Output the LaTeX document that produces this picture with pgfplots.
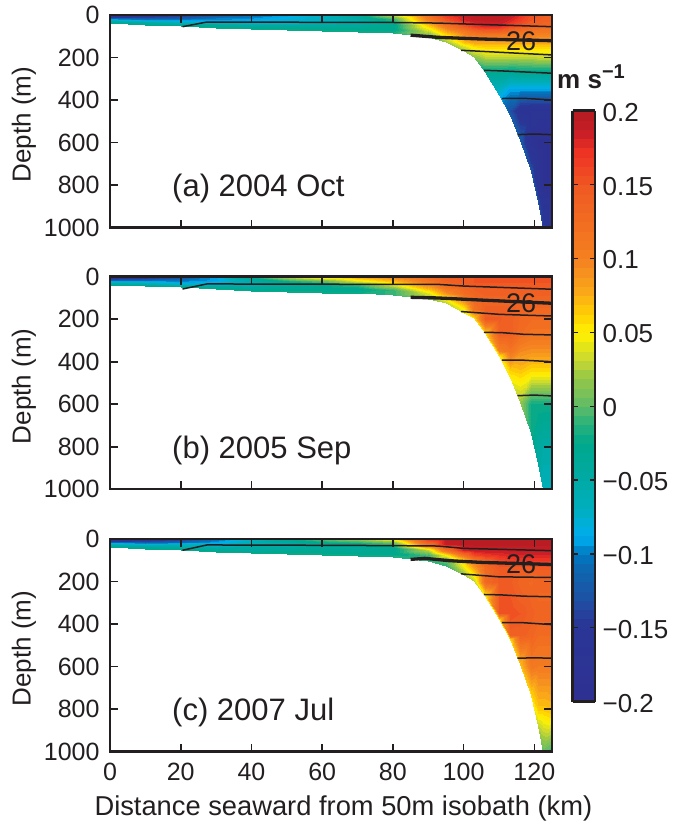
\documentclass[border=0pt]{standalone}
\usepackage{pgfplots}
\usepackage{pgfplotstable}
\usepackage{fontspec}
\setmainfont{Liberation Sans}
\pgfplotsset{compat=1.18}
\definecolor{ink}{RGB}{35,31,32}
\pgfplotsset{colormap={base}{
rgb255(0)=(46,49,146) rgb255(50)=(42,54,150) rgb255(70)=(28,84,165) rgb255(90)=(10,105,178) rgb255(100)=(0,125,195) rgb255(110)=(0,174,239) rgb255(130)=(0,175,190) rgb255(150)=(0,170,165) rgb255(175)=(0,168,140) rgb255(190)=(50,180,120) rgb255(200)=(95,187,105) rgb255(220)=(150,200,70) rgb255(232)=(200,215,50) rgb255(250)=(255,242,0) rgb255(265)=(255,203,5) rgb255(280)=(250,166,26) rgb255(300)=(244,130,32) rgb255(350)=(240,90,35) rgb255(375)=(237,50,36) rgb255(388)=(200,30,38) rgb255(400)=(185,28,34)}}
\pgfplotsset{colormap={steps}{samples of colormap=(64 of base)}}
\pgfplotsset{panel/.style={
  scale only axis, width=442pt, height=212.5pt, anchor=north west,
  xmin=0, xmax=125, ymin=0, ymax=1000, y dir=reverse,
  xtick={0,20,...,120}, ytick={0,200,...,1000},
  tick align=inside, xtick pos=both, ytick pos=both,
  xticklabel pos=bottom, yticklabel pos=left,
  major tick length=8pt,
  axis line style={line width=2.5pt, color=ink},
  tick style={line width=1.6pt, color=ink},
  tick label style={font=\fontsize{25}{25}\selectfont, color=ink},
  /pgf/number format/assume math mode=true,
  /pgf/number format/1000 sep={},
  yticklabel style={xshift=-7pt},
  xticklabel style={yshift=-8pt},
  axis on top, colormap name=steps, colormap access=piecewise constant,
  point meta min=-0.2, point meta max=0.2,
  ylabel=Depth (m),
  ylabel style={at={(axis description cs:-0.195,0.484)}, anchor=center, font=\fontsize{26}{26}\selectfont, color=ink},
  field/.style={surf, shader=interp},
  ct/.style={color=ink, line width=1.5pt, no marks},
  ctk/.style={color=ink, line width=3.3pt, no marks},
}}
\pgfplotstableread{
x y a b c
0 0 -.18 -.17 -.17
10 0 -.17 -.16 -.16
20 0 -.15 -.14 -.15
30 0 -.13 -.09 -.11
40 0 -.11 -.02 -.07
50 0 -.09 .03 -.03
60 0 -.07 .06 .0
70 0 -.04 .08 .02
80 0 .03 .10 .05
90 0 .12 .13 .17
0 10 -.15 -.14 -.15
10 11 -.14 -.13 -.14
20 12.5 -.12 -.11 -.11
30 15 -.10 -.09 -.09
40 17 -.09 -.05 -.06
50 18 -.08 -.02 -.05
60 19 -.07 .0 -.03
70 20 -.05 .04 -.02
80 21 -.01 .07 .0
90 26 .10 .11 .12
0 20 -.09 -.09 -.08
10 22 -.09 -.09 -.08
20 25 -.09 -.09 -.07
30 30 -.09 -.08 -.07
40 34 -.08 -.06 -.05
50 36 -.07 -.04 -.045
60 37 -.06 -.03 -.04
70 39 -.05 -.01 -.04
80 42 -.03 .03 -.03
90 52 .06 .08 .03
0 29 -.05 -.05 -.05
10 34 -.05 -.05 -.05
20 37 -.06 -.06 -.05
30 44 -.05 -.05 -.05
40 51 -.04 -.04 -.04
50 54 -.04 -.035 -.035
60 56 -.035 -.03 -.03
70 59 -.03 -.03 -.03
80 64 -.03 -.01 -.03
90 79 .03 .04 -.01
0 39 -.03 -.03 -.03
10 45 -.025 -.025 -.025
20 50 -.02 -.02 -.02
30 59 -.02 -.02 -.02
40 68 -.02 -.02 -.02
50 72 -.02 -.02 -.02
60 75 -.02 -.02 -.02
70 79 -.02 -.02 -.02
80 85 -.015 -.01 -.015
90 105 .0 .01 -.01
}\shelf
\pgfplotstableread{
x y a b c
90 0 .12 .13 .17
95 0 .17 .145 .195
100 0 .19 .15 .195
103 0 .195 .15 .195
106 0 .195 .155 .195
110 0 .195 .155 .195
113 0 .19 .155 .195
116 0 .175 .155 .195
119 0 .155 .155 .195
121 0 .15 .155 .195
122.5 0 .145 .155 .195
125 0 .14 .155 .195
90 25 .10 .11 .12
95 25 .15 .135 .19
100 25 .18 .145 .195
103 25 .19 .15 .195
106 25 .19 .15 .195
110 25 .19 .15 .195
113 25 .18 .15 .195
116 25 .165 .15 .195
119 25 .15 .15 .195
121 25 .145 .15 .195
122.5 25 .14 .15 .195
125 25 .14 .15 .195
90 50 .06 .08 .03
95 50 .11 .12 .12
100 50 .15 .135 .185
103 50 .17 .14 .19
106 50 .18 .145 .19
110 50 .18 .145 .19
113 50 .16 .145 .19
116 50 .15 .145 .19
119 50 .14 .145 .19
121 50 .135 .145 .19
122.5 50 .13 .145 .19
125 50 .13 .145 .19
90 75 .03 .04 -.01
95 75 .08 .09 .05
100 75 .11 .125 .12
103 75 .13 .135 .16
106 75 .14 .14 .17
110 75 .14 .14 .175
113 75 .13 .14 .18
116 75 .12 .14 .18
119 75 .115 .14 .18
121 75 .11 .14 .18
122.5 75 .11 .14 .18
125 75 .11 .14 .18
90 100 .0 .01 -.01
95 100 .05 .05 .0
100 100 .09 .11 .06
103 100 .10 .13 .11
106 100 .10 .135 .14
110 100 .10 .135 .16
113 100 .10 .135 .165
116 100 .10 .135 .17
119 100 .10 .135 .17
121 100 .095 .135 .17
122.5 100 .095 .135 .17
125 100 .095 .135 .17
90 105 .0 .01 -.01
95 125 .02 .03 -.01
100 125 .07 .08 .05
103 125 .08 .125 .09
106 125 .08 .135 .13
110 125 .08 .135 .15
113 125 .08 .135 .15
116 125 .08 .135 .15
119 125 .08 .135 .15
121 125 .08 .135 .15
122.5 125 .08 .135 .15
125 125 .08 .135 .15
90 105 .0 .01 -.01
95 125 .02 .03 -.01
100 150 .035 .05 .03
103 150 .055 .12 .07
106 150 .06 .14 .125
110 150 .06 .14 .145
113 150 .06 .14 .145
116 150 .06 .135 .14
119 150 .06 .13 .14
121 150 .06 .13 .14
122.5 150 .06 .13 .14
125 150 .06 .13 .14
90 105 .0 .01 -.01
95 125 .02 .03 -.01
100 170 .02 .04 .02
103 196 .015 .06 .03
106 200 .025 .145 .13
110 200 .025 .145 .145
113 200 .025 .14 .145
116 200 .025 .13 .135
119 200 .025 .125 .13
121 200 .03 .125 .135
122.5 200 .03 .125 .135
125 200 .03 .125 .135
90 105 .0 .01 -.01
95 125 .02 .03 -.01
100 170 .02 .04 .02
103 196 .015 .06 .03
106 266 -.03 .06 .05
110 270 -.03 .14 .15
113 270 -.035 .14 .15
116 270 -.03 .125 .14
119 270 -.03 .115 .135
121 270 -.03 .115 .13
122.5 270 -.03 .115 .13
125 270 -.03 .115 .13
90 105 .0 .01 -.01
95 125 .02 .03 -.01
100 170 .02 .04 .02
103 196 .015 .06 .03
106 266 -.03 .06 .05
110 350 -.07 .10 .15
113 350 -.09 .115 .155
116 350 -.09 .095 .15
119 350 -.09 .09 .14
121 350 -.09 .09 .135
122.5 350 -.09 .09 .135
125 350 -.09 .09 .135
90 105 .0 .01 -.01
95 125 .02 .03 -.01
100 170 .02 .04 .02
103 196 .015 .06 .03
106 266 -.03 .06 .05
110 375 -.08 .05 .06
113 450 -.13 .06 .14
116 450 -.165 .065 .14
119 450 -.17 .055 .135
121 450 -.17 .055 .125
122.5 450 -.17 .055 .125
125 450 -.17 .055 .125
90 105 .0 .01 -.01
95 125 .02 .03 -.01
100 170 .02 .04 .02
103 196 .015 .06 .03
106 266 -.03 .06 .05
110 375 -.08 .05 .06
113 470 -.12 .05 .06
116 590 -.12 .02 .07
119 600 -.18 -.02 .11
121 600 -.19 -.02 .105
122.5 600 -.19 -.02 .105
125 600 -.19 -.02 .105
90 105 .0 .01 -.01
95 125 .02 .03 -.01
100 170 .02 .04 .02
103 196 .015 .06 .03
106 266 -.03 .06 .05
110 375 -.08 .05 .06
113 470 -.12 .05 .06
116 590 -.12 .02 .07
119 735 -.13 -.02 .06
121 800 -.17 -.045 .065
122.5 800 -.19 -.05 .065
125 800 -.19 -.05 .07
90 105 .0 .01 -.01
95 125 .02 .03 -.01
100 170 .02 .04 .02
103 196 .015 .06 .03
106 266 -.03 .06 .05
110 375 -.08 .05 .06
113 470 -.12 .05 .06
116 590 -.12 .02 .07
119 735 -.13 -.02 .06
121 880 -.13 -.045 .03
122.5 1000 -.14 -.065 .0
125 1000 -.19 -.065 -.01
}\slope
\newcommand{\bodyfield}[1]{%
  \addplot[field, mesh/rows=5, mesh/cols=10, point meta=\thisrow{#1}] table[x=x,y=y] {\shelf};
  \addplot[field, mesh/rows=14, mesh/cols=12, point meta=\thisrow{#1}] table[x=x,y=y] {\slope};
}
\begin{document}
\begin{tikzpicture}
\useasboundingbox (0pt,0pt) rectangle (672pt,-821pt);
\begin{axis}[panel, at={(110pt,-15pt)}, xticklabels={},
  colorbar sampled,
  colorbar style={samples=65, at={(parent axis.north east)}, anchor=north west, xshift=12.2pt, yshift=-95.7pt,
    width=22.3pt, height=591pt, scale only axis,
    ytick={-0.2,-0.15,-0.1,-0.05,0,0.05,0.1,0.15,0.2},
    yticklabels={−0.2,−0.15,−0.1,−0.05,0,0.05,0.1,0.15,0.2},
    tick align=inside, ytick pos=both, yticklabel pos=right, xtick=\empty,
    major tick length=5pt,
    axis line style={line width=2.5pt, color=ink},
    tick style={line width=1.3pt, color=ink},
    yticklabel style={font=\fontsize{26}{26}\selectfont, color=ink, xshift=4pt, yshift=-1.5pt},
  }]
\bodyfield{a}
\addplot[ct] coordinates {(20.5,55)(27.4,33)(50,34)(79,35)(92.7,38)(100,42)(125,55)};
\addplot[ctk] coordinates {(85,95)(92.7,105)(105,113)(125,121)};
\addplot[ct] coordinates {(99.3,166)(109.7,175)(125,188)};
\addplot[ct] coordinates {(105.7,260)(110.6,263)(125,274)};
\addplot[ct] coordinates {(110.8,393)(117,392)(125,400)};
\addplot[ct] coordinates {(115.2,563)(120,560)(125,563)};
\node[font=\fontsize{27}{27}\selectfont, color=ink] at (axis cs:116.3,122) {26};
\node[font=\fontsize{31}{31}\selectfont, color=ink, anchor=base west] at (axis cs:16.6,856) {(a) 2004 Oct};
\end{axis}
\begin{axis}[panel, at={(110pt,-276.7pt)}, xticklabels={}]
\bodyfield{b}
\addplot[ct] coordinates {(20.5,58)(27.4,34)(50,35)(79,36)(92.7,36)(100,44)(125,59)};
\addplot[ctk] coordinates {(85,97)(92.7,100)(105,110)(125,125)};
\addplot[ct] coordinates {(99.3,164)(110,177)(125,185)};
\addplot[ct] coordinates {(105.7,262)(110.6,263)(117,271)(125,274)};
\addplot[ct] coordinates {(110.8,393)(117,393)(125,400)};
\addplot[ct] coordinates {(115.2,560)(120,557)(125,561)};
\node[font=\fontsize{27}{27}\selectfont, color=ink] at (axis cs:116.3,123) {26};
\node[font=\fontsize{31}{31}\selectfont, color=ink, anchor=base west] at (axis cs:16.6,856) {(b) 2005 Sep};
\end{axis}
\begin{axis}[panel, at={(110pt,-539pt)}, xlabel={Distance seaward from 50m isobath (km)},
  xlabel style={at={(axis description cs:0.528,-0.27)}, anchor=center, font=\fontsize{27.3}{27.3}\selectfont, color=ink}]
\bodyfield{c}
\addplot[ct] coordinates {(20.5,53)(27.4,28)(50,29)(79,31)(92.7,33)(100,44)(125,55)};
\addplot[ctk] coordinates {(85,96)(89,91)(96,102)(105,110)(125,120)};
\addplot[ct] coordinates {(99.3,164)(110,178)(125,181)};
\addplot[ct] coordinates {(105.7,261)(110.6,263)(117,269)(125,272)};
\addplot[ct] coordinates {(110.8,394)(117,394)(125,403)};
\addplot[ct] coordinates {(115.2,561)(120,559)(125,561)};
\node[font=\fontsize{27}{27}\selectfont, color=ink] at (axis cs:116.3,118) {26};
\node[font=\fontsize{31}{31}\selectfont, color=ink, anchor=base west] at (axis cs:16.6,856) {(c) 2007 Jul};
\end{axis}
\node[anchor=base west, inner sep=0pt, font=\bfseries\fontsize{26}{26}\selectfont, color=ink] at (557pt,-88.5pt) {m s\raisebox{10pt}{\fontsize{20}{20}\selectfont −1}};
\end{tikzpicture}
\end{document}
